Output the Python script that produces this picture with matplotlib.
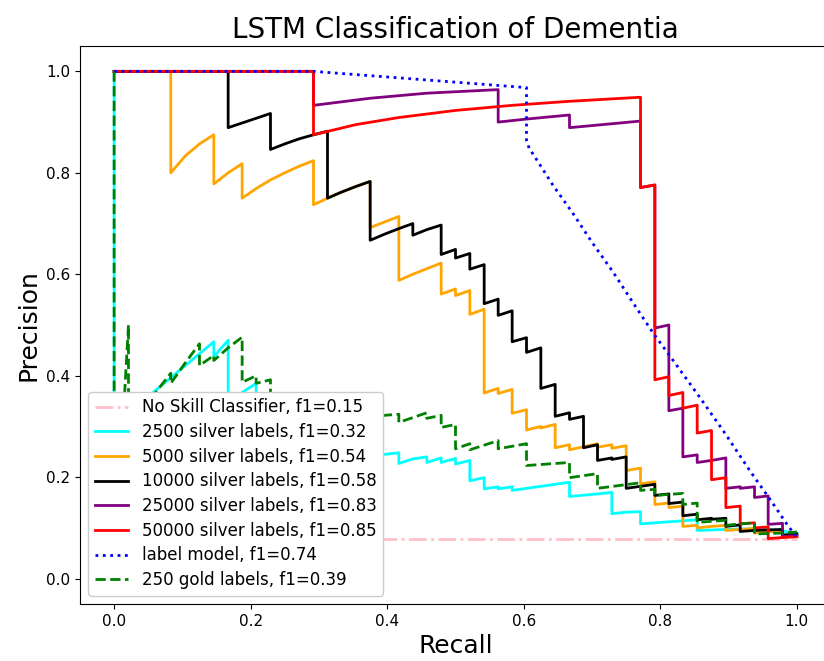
import numpy as np
import matplotlib
matplotlib.use('Agg')
import matplotlib.pyplot as plt

# (recall, precision) vertices
noskill_x = [0.0, 1.0]
noskill_y = [0.079, 0.079]

cyan_pts = [(0, 1.0), (0, 0.0), (0.042, 0.35), (0.146, 0.467), (0.146, 0.4375), (0.167, 0.47),
            (0.167, 0.33), (0.1875, 0.367), (0.208, 0.385), (0.208, 0.32), (0.271, 0.30),
            (0.271, 0.27), (0.354, 0.26), (0.354, 0.24), (0.396, 0.245), (0.417, 0.248),
            (0.417, 0.227), (0.4375, 0.236), (0.458, 0.24), (0.458, 0.229), (0.479, 0.238),
            (0.479, 0.229), (0.5, 0.237), (0.5, 0.226), (0.521, 0.233), (0.521, 0.193),
            (0.542, 0.199), (0.542, 0.177), (0.5625, 0.181), (0.5625, 0.177), (0.583, 0.181),
            (0.583, 0.174), (0.667, 0.19), (0.667, 0.162), (0.708, 0.167), (0.729, 0.17),
            (0.729, 0.128), (0.75, 0.131), (0.771, 0.132), (0.771, 0.108), (0.833, 0.114),
            (0.854, 0.116), (0.854, 0.095), (0.917, 0.098), (0.958, 0.097), (1.0, 0.09)]

orange_pts = [(0, 1.0), (0.083, 1.0), (0.083, 0.8), (0.104, 0.833), (0.125, 0.857), (0.146, 0.875),
              (0.146, 0.778), (0.167, 0.8), (0.1875, 0.818), (0.1875, 0.75), (0.208, 0.769),
              (0.229, 0.786), (0.25, 0.8), (0.271, 0.813), (0.292, 0.824), (0.292, 0.737),
              (0.3125, 0.75), (0.333, 0.762), (0.354, 0.773), (0.375, 0.783), (0.375, 0.692),
              (0.417, 0.714), (0.417, 0.588), (0.4375, 0.6), (0.458, 0.611), (0.479, 0.622),
              (0.479, 0.561), (0.5, 0.571), (0.5, 0.558), (0.521, 0.568), (0.521, 0.521),
              (0.542, 0.531), (0.542, 0.366), (0.5625, 0.375), (0.5625, 0.365), (0.583, 0.373),
              (0.583, 0.326), (0.604, 0.333), (0.604, 0.293), (0.625, 0.3), (0.625, 0.297),
              (0.646, 0.304), (0.646, 0.258), (0.667, 0.264), (0.667, 0.254), (0.6875, 0.26),
              (0.708, 0.266), (0.708, 0.259), (0.729, 0.264), (0.729, 0.257), (0.75, 0.262),
              (0.75, 0.213), (0.771, 0.218), (0.771, 0.187), (0.792, 0.191), (0.792, 0.146),
              (0.8125, 0.149), (0.8125, 0.14), (0.833, 0.143), (0.833, 0.103), (0.854, 0.105),
              (0.854, 0.1), (0.875, 0.103), (0.896, 0.105), (0.896, 0.095), (0.917, 0.097),
              (0.938, 0.099), (0.938, 0.09), (0.958, 0.092), (0.979, 0.094), (0.979, 0.081),
              (1.0, 0.083)]

black_pts = [(0, 1.0), (0.167, 1.0), (0.167, 0.889), (0.229, 0.917), (0.229, 0.846), (0.25, 0.857),
             (0.271, 0.867), (0.292, 0.875), (0.3125, 0.882), (0.3125, 0.75), (0.333, 0.762),
             (0.354, 0.773), (0.375, 0.783), (0.375, 0.667), (0.396, 0.679), (0.417, 0.69),
             (0.4375, 0.7), (0.4375, 0.677), (0.458, 0.688), (0.479, 0.697), (0.479, 0.639),
             (0.5, 0.649), (0.5, 0.632), (0.521, 0.641), (0.521, 0.61), (0.542, 0.619),
             (0.542, 0.542), (0.5625, 0.551), (0.5625, 0.519), (0.583, 0.528), (0.583, 0.467),
             (0.604, 0.475), (0.604, 0.446), (0.625, 0.455), (0.625, 0.375), (0.646, 0.383),
             (0.646, 0.32), (0.667, 0.327), (0.667, 0.314), (0.6875, 0.32), (0.6875, 0.258),
             (0.708, 0.264), (0.708, 0.233), (0.729, 0.238), (0.729, 0.235), (0.75, 0.24),
             (0.75, 0.178), (0.771, 0.182), (0.792, 0.186), (0.792, 0.164), (0.8125, 0.167),
             (0.8125, 0.148), (0.833, 0.151), (0.833, 0.124), (0.854, 0.127), (0.854, 0.116),
             (0.875, 0.119), (0.875, 0.117), (0.896, 0.119), (0.896, 0.103), (0.917, 0.106),
             (0.917, 0.093), (0.938, 0.095), (0.958, 0.096), (0.979, 0.097), (0.979, 0.086),
             (1.0, 0.088)]

purple_pts = [(0, 1.0), (0.292, 1.0), (0.292, 0.933), (0.375, 0.947), (0.458, 0.957), (0.5625, 0.964),
              (0.5625, 0.9), (0.604, 0.906), (0.667, 0.914), (0.667, 0.889), (0.771, 0.902),
              (0.771, 0.771), (0.792, 0.776), (0.792, 0.494), (0.8125, 0.5), (0.8125, 0.331),
              (0.833, 0.336), (0.833, 0.24), (0.854, 0.244), (0.854, 0.229), (0.875, 0.233),
              (0.896, 0.238), (0.896, 0.178), (0.917, 0.181), (0.917, 0.178), (0.938, 0.181),
              (0.938, 0.16), (0.958, 0.163), (0.958, 0.107), (0.979, 0.109), (0.979, 0.083),
              (1.0, 0.085)]

red_pts = [(0, 1.0), (0.292, 1.0), (0.292, 0.875), (0.354, 0.895), (0.417, 0.909), (0.5, 0.923),
           (0.583, 0.933), (0.667, 0.941), (0.771, 0.949), (0.771, 0.771), (0.792, 0.776),
           (0.792, 0.392), (0.8125, 0.398), (0.8125, 0.361), (0.833, 0.367), (0.833, 0.336),
           (0.854, 0.342), (0.854, 0.287), (0.875, 0.292), (0.875, 0.195), (0.896, 0.199),
           (0.896, 0.14), (0.917, 0.143), (0.917, 0.108), (0.938, 0.11), (0.938, 0.1),
           (0.958, 0.102), (0.958, 0.079), (0.979, 0.081), (1.0, 0.083)]

blue_pts = [(0, 1.0), (0.292, 1.0), (0.604, 0.968), (0.604, 0.864), (0.608, 0.848), (0.615, 0.834),
            (0.643, 0.775), (0.672, 0.72), (0.701, 0.661), (0.731, 0.604), (0.76, 0.544),
            (0.789, 0.485), (0.821, 0.426), (0.858, 0.357), (0.895, 0.286), (0.931, 0.213),
            (0.965, 0.148), (0.985, 0.108), (1.0, 0.081)]

green_pts = [(0, 1.0), (0, 0.0), (0.021, 0.5), (0.021, 0.3), (0.042, 0.33), (0.0625, 0.37),
             (0.083, 0.405), (0.083, 0.385), (0.104, 0.425), (0.125, 0.463), (0.125, 0.42),
             (0.146, 0.44), (0.146, 0.43), (0.167, 0.455), (0.1875, 0.476), (0.1875, 0.387),
             (0.208, 0.40), (0.208, 0.385), (0.229, 0.392), (0.229, 0.33), (0.292, 0.34),
             (0.292, 0.31), (0.354, 0.32), (0.354, 0.30), (0.396, 0.322), (0.417, 0.324),
             (0.417, 0.308), (0.458, 0.327), (0.458, 0.316), (0.479, 0.322), (0.479, 0.298),
             (0.5, 0.304), (0.5, 0.256), (0.521, 0.266), (0.521, 0.254), (0.5625, 0.272),
             (0.5625, 0.256), (0.604, 0.266), (0.604, 0.223), (0.667, 0.229), (0.667, 0.199),
             (0.708, 0.207), (0.708, 0.178), (0.771, 0.189), (0.771, 0.174), (0.792, 0.176),
             (0.792, 0.164), (0.833, 0.168), (0.833, 0.146), (0.854, 0.149), (0.854, 0.111),
             (0.896, 0.115), (0.896, 0.105), (0.917, 0.108), (0.938, 0.11), (0.938, 0.088),
             (0.979, 0.09), (1.0, 0.092)]

series = [
    (cyan_pts, 'cyan', '-', '2500 silver labels, f1=0.32'),
    (orange_pts, 'orange', '-', '5000 silver labels, f1=0.54'),
    (black_pts, 'black', '-', '10000 silver labels, f1=0.58'),
    (purple_pts, 'purple', '-', '25000 silver labels, f1=0.83'),
    (red_pts, 'red', '-', '50000 silver labels, f1=0.85'),
    (blue_pts, 'blue', ':', 'label model, f1=0.74'),
    (green_pts, 'green', '--', '250 gold labels, f1=0.39'),
]

fig = plt.figure(figsize=(8.24, 6.61), dpi=100)
ax = fig.add_axes([80 / 824, 57 / 661, 751 / 824, 558 / 661])

ax.plot(noskill_x, noskill_y, color='pink', linestyle='-.', lw=2,
        label='No Skill Classifier, f1=0.15')
for pts, col, ls, lab in series:
    r, p = np.array(pts).T
    ax.plot(r, p, color=col, linestyle=ls, lw=2, label=lab)

ax.set_title('LSTM Classification of Dementia', fontsize=20)
ax.set_xlabel('Recall', fontsize=18)
ax.set_ylabel('Precision', fontsize=18)
ax.tick_params(labelsize=11)
ax.legend(loc='lower left', fontsize=12, labelspacing=0.4, framealpha=1)

fig.savefig('out.png', dpi=100)
